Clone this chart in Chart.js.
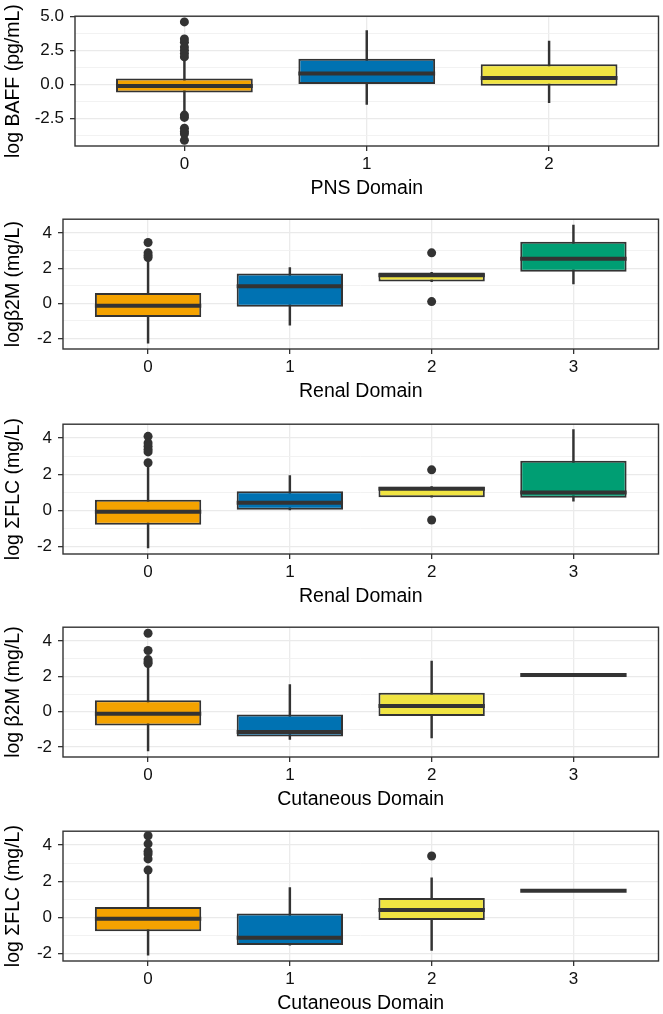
<!DOCTYPE html>
<html>
<head>
<meta charset="utf-8">
<script src="https://cdn.jsdelivr.net/npm/chart.js@4.4.1/dist/chart.umd.min.js"></script>
<style>
  body { margin: 0; background: #fff; }
  #wrap { position: relative; width: 663px; height: 1014px; }
  canvas { position: absolute; left: 0; }
</style>
</head>
<body>
<div id="wrap">
  <canvas id="c0" width="663" height="200" style="top:0px"></canvas>
  <canvas id="c1" width="663" height="200" style="top:203px"></canvas>
  <canvas id="c2" width="663" height="200" style="top:408px"></canvas>
  <canvas id="c3" width="663" height="200" style="top:611px"></canvas>
  <canvas id="c4" width="663" height="200" style="top:815px"></canvas>
</div>
<script>
// categories
const pnsCats = ['0', '1', '2'];
const renalCats = ['0', '1', '2', '3'];
const cutCats = ['0', '1', '2', '3'];
const boxColors = ['#F4A200', '#0072B2', '#F0E442', '#009E73'];

// panel 1: log BAFF by PNS domain
const baffLo = [-2.05, -1.47, -1.35];
const baffQ1 = [-0.6, 0.02, -0.1];
const baffMed = [-0.12, 0.8, 0.46];
const baffQ3 = [0.43, 1.88, 1.47];
const baffHi = [1.95, 3.96, 3.19];
const baffOut = [[4.59, 3.34, 3.1, 2.74, 2.5, 2.26, 2.02, -2.26, -2.43, -3.22, -3.46, -3.63, -4.11], [], []];

// panel 2: log b2M by renal domain
const b2mRenLo = [-2.26, -1.24, 1.24, 1.11];
const b2mRenQ1 = [-0.78, -0.19, 1.24, 1.8];
const b2mRenMed = [-0.13, 0.98, 1.6, 2.54];
const b2mRenQ3 = [0.59, 1.7, 1.76, 3.5];
const b2mRenHi = [2.45, 2.04, 1.76, 4.44];
const b2mRenOut = [[3.46, 2.87, 2.72, 2.6], [], [2.87, 0.1], []];

// panel 3: log sum FLC by renal domain
const flcRenLo = [-2.06, 0.04, 0.74, 0.52];
const flcRenQ1 = [-0.78, 0.04, 0.74, 0.71];
const flcRenMed = [-0.07, 0.43, 1.21, 1.0];
const flcRenQ3 = [0.6, 1.07, 1.32, 2.75];
const flcRenHi = [2.45, 1.93, 1.32, 4.47];
const flcRenOut = [[4.1, 3.73, 3.55, 3.37, 3.24, 2.64], [], [2.25, -0.52], []];

// panel 4: log b2M by cutaneous domain
const b2mCutLo = [-2.21, -1.57, -1.48, 2.07];
const b2mCutQ1 = [-0.78, -1.4, -0.24, 2.07];
const b2mCutMed = [-0.11, -1.14, 0.33, 2.07];
const b2mCutQ3 = [0.65, -0.15, 1.07, 2.07];
const b2mCutHi = [2.55, 1.53, 2.86, 2.07];
const b2mCutOut = [[4.44, 3.46, 2.95, 2.82, 2.73], [], [], []];

// panel 5: log sum FLC by cutaneous domain
const flcCutLo = [-2.08, -1.52, -1.81, 1.48];
const flcCutQ1 = [-0.76, -1.52, -0.14, 1.48];
const flcCutMed = [-0.07, -1.12, 0.42, 1.48];
const flcCutQ3 = [0.58, 0.22, 1.08, 1.48];
const flcCutHi = [2.45, 1.66, 2.2, 1.48];
const flcCutOut = [[4.52, 4.07, 3.65, 3.51, 3.24, 2.62], [], [3.4], []];

// y ticks
const baffMajor = [-2.5, 0, 2.5, 5];
const baffTicks = [-3.75, -2.5, -1.25, 0, 1.25, 2.5, 3.75, 5];
const logMajor = [-2, 0, 2, 4];
const logTicks = [-2, -1, 0, 1, 2, 3, 4];

const FONT = "'Liberation Sans', Arial, sans-serif";
const INK = '#333333';
const BOX_W = 0.75;

const frame = {
  id: 'frame',
  afterDraw(chart) {
    const {ctx, chartArea: a} = chart;
    ctx.save();
    ctx.strokeStyle = INK;
    ctx.lineWidth = 1.4;
    ctx.strokeRect(a.left, a.top, a.right - a.left, a.bottom - a.top);
    ctx.restore();
  }
};

function makePanel(id, p) {
  const n = p.cats.length;
  const idx = p.cats.map((c, i) => i);
  const outPts = [];
  p.out.forEach((vals, i) => vals.forEach(v => outPts.push({x: i, y: v})));

  new Chart(document.getElementById(id), {
    type: 'bar',
    data: {
      datasets: [
        {
          // whiskers
          type: 'bar',
          data: idx.map(i => ({x: i, y: [p.lo[i], p.hi[i]]})),
          backgroundColor: INK,
          barThickness: 1.8,
          grouped: false,
          order: 3
        },
        {
          // boxes
          type: 'bar',
          data: idx.map(i => ({x: i, y: [p.q1[i], p.q3[i]]})),
          backgroundColor: p.cats.map((c, i) => boxColors[i]),
          borderColor: INK,
          borderWidth: 2,
          borderSkipped: false,
          barPercentage: BOX_W,
          categoryPercentage: 1,
          grouped: false,
          order: 2
        },
        {
          // medians
          type: 'scatter',
          data: idx.map(i => ({x: i, y: p.med[i]})),
          pointStyle: 'line',
          pointRadius: ctx => {
            const s = ctx.chart.scales.x;
            return s.getPixelForValue(BOX_W / 2) - s.getPixelForValue(0);
          },
          borderColor: INK,
          pointBorderWidth: 4,
          order: 1
        },
        {
          // outliers
          type: 'scatter',
          data: outPts,
          pointRadius: 4.5,
          backgroundColor: INK,
          borderWidth: 0,
          order: 0
        }
      ]
    },
    options: {
      responsive: false,
      animation: false,
      events: [],
      layout: {padding: {top: 14, right: 3, left: 0, bottom: 0}},
      plugins: {legend: {display: false}, tooltip: {enabled: false}},
      scales: {
        x: {
          type: 'linear',
          min: -0.6,
          max: n - 0.4,
          offset: false,
          afterBuildTicks: axis => { axis.ticks = idx.map(i => ({value: i})); },
          afterFit: axis => { axis.height = 54; },
          grid: {offset: false, color: '#EBEBEB', lineWidth: 1.3, tickColor: INK, tickLength: 5},
          border: {display: false},
          ticks: {
            autoSkip: false, padding: 3, color: '#111',
            font: {family: FONT, size: 17},
            callback: v => p.cats[v]
          },
          title: {display: true, text: p.xTitle, color: '#000', padding: {top: 0, bottom: 0},
                  font: {family: FONT, size: 19.5}}
        },
        y: {
          min: p.yMin,
          max: p.yMax,
          afterBuildTicks: axis => { axis.ticks = p.ticks.map(v => ({value: v})); },
          afterFit: axis => { axis.width = p.left; },
          grid: {
            color: c => (c.tick && p.major.includes(c.tick.value)) ? '#EAEAEA' : '#F1F1F1',
            lineWidth: c => (c.tick && p.major.includes(c.tick.value)) ? 1.3 : 0.9,
            tickColor: c => (c.tick && p.major.includes(c.tick.value)) ? INK : 'rgba(0,0,0,0)',
            tickLength: 5
          },
          border: {display: false},
          ticks: {
            autoSkip: false, padding: 6, color: '#111',
            font: {family: FONT, size: 17},
            callback: v => p.major.includes(v) ? p.fmt(v) : ''
          },
          title: {display: true, text: p.yTitle, color: '#000', padding: {top: 2, bottom: 0},
                  font: {family: FONT, size: 19.5}}
        }
      }
    },
    plugins: [frame]
  });
}

const oneDec = v => v.toFixed(1);
const plain = v => String(v);

makePanel('c0', {cats: pnsCats, lo: baffLo, q1: baffQ1, med: baffMed, q3: baffQ3, hi: baffHi, out: baffOut,
  xTitle: 'PNS Domain', yTitle: 'log BAFF (pg/mL)', yMin: -4.53, yMax: 5.01,
  ticks: baffTicks, major: baffMajor, fmt: oneDec, left: 75});
makePanel('c1', {cats: renalCats, lo: b2mRenLo, q1: b2mRenQ1, med: b2mRenMed, q3: b2mRenQ3, hi: b2mRenHi, out: b2mRenOut,
  xTitle: 'Renal Domain', yTitle: 'log\u03B22M (mg/L)', yMin: -2.59, yMax: 4.78,
  ticks: logTicks, major: logMajor, fmt: plain, left: 63});
makePanel('c2', {cats: renalCats, lo: flcRenLo, q1: flcRenQ1, med: flcRenMed, q3: flcRenQ3, hi: flcRenHi, out: flcRenOut,
  xTitle: 'Renal Domain', yTitle: 'log \u03A3FLC (mg/L)', yMin: -2.4, yMax: 4.77,
  ticks: logTicks, major: logMajor, fmt: plain, left: 63});
makePanel('c3', {cats: cutCats, lo: b2mCutLo, q1: b2mCutQ1, med: b2mCutMed, q3: b2mCutQ3, hi: b2mCutHi, out: b2mCutOut,
  xTitle: 'Cutaneous Domain', yTitle: 'log \u03B22M (mg/L)', yMin: -2.56, yMax: 4.78,
  ticks: logTicks, major: logMajor, fmt: plain, left: 63});
makePanel('c4', {cats: cutCats, lo: flcCutLo, q1: flcCutQ1, med: flcCutMed, q3: flcCutQ3, hi: flcCutHi, out: flcCutOut,
  xTitle: 'Cutaneous Domain', yTitle: 'log \u03A3FLC (mg/L)', yMin: -2.4, yMax: 4.77,
  ticks: logTicks, major: logMajor, fmt: plain, left: 63});
</script>
</body>
</html>
